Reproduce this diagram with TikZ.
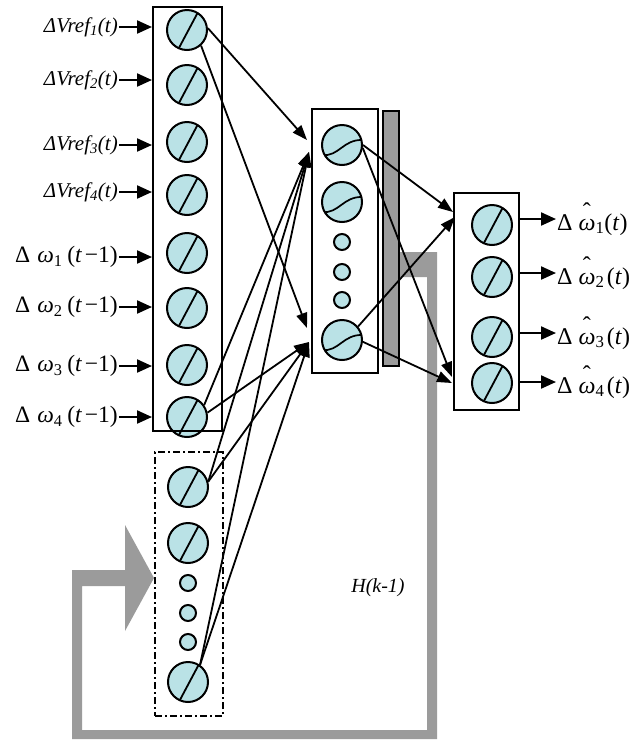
\documentclass[tikz,border=0pt]{standalone}
\usepackage{fontspec}
\setmainfont{Liberation Serif}
\usetikzlibrary{arrows.meta,calc}
\definecolor{neuron}{RGB}{186,226,230}
\definecolor{fbgray}{RGB}{155,155,155}
\newcommand\myhatw{\makebox[0pt][l]{\hspace{0.18em}\raisebox{0.45em}{ˆ}}\textit{ω}}
\begin{document}
\begin{tikzpicture}[x=1pt,y=-1pt,
  neu/.style={circle,draw=black,line width=2pt,fill=neuron,minimum size=40pt,inner sep=0pt},
  lin/.style={neu,path picture={\draw[line width=1.8pt] ($(path picture bounding box.center)+(1.5pt,0pt)+(242:25pt)$) -- ++(62:50pt);}},
  sig/.style={neu,path picture={\draw[line width=1.7pt] ($(path picture bounding box.center)+(-20pt,-10pt)$) .. controls ($(path picture bounding box.center)+(-3pt,-12pt)$) and ($(path picture bounding box.center)+(1pt,6pt)$) .. ($(path picture bounding box.center)+(21pt,5pt)$);}},
  smalln/.style={circle,draw=black,line width=2pt,fill=neuron,minimum size=16pt,inner sep=0pt},
  boxx/.style={draw=black,line width=2pt,inner sep=0pt},
  conn/.style={line width=1.8pt,-{Triangle[length=15pt,width=11pt]}},
  ioarr/.style={line width=2.2pt,-{Triangle[length=15pt,width=13pt]}},
  inlab/.style={anchor=east,inner sep=1pt,font=\fontsize{21}{24}\selectfont\itshape},
  wlab/.style={anchor=east,inner sep=1pt,font=\fontsize{23.5}{26}\selectfont},
  outlab/.style={anchor=west,inner sep=1pt,font=\fontsize{24}{26}\selectfont},
]
\useasboundingbox (0,0) rectangle (644,740);
\fill[white] (0,0) rectangle (644,740);

% feedback path
\fill[fbgray] (398,252) -- (437,252) -- (437,739) -- (72,739) -- (72,570) -- (125,570)
  -- (125,525) -- (154,578) -- (125,631) -- (125,586) -- (82,586) -- (82,730)
  -- (427,730) -- (427,277) -- (398,277) -- cycle;

% gray bar
\node[draw=black,line width=1.6pt,fill=fbgray,minimum width=16pt,minimum height=255pt,inner sep=0pt] (bar) at (391,238.5) {};

% input neurons
\node[lin] (c1) at (187,30) {};
\node[lin] (c2) at (187,85) {};
\node[lin] (c3) at (187,142) {};
\node[lin] (c4) at (187,195) {};
\node[lin] (c5) at (187,253) {};
\node[lin] (c6) at (187,308) {};
\node[lin] (c7) at (187,365) {};
\node[lin] (c8) at (187,417) {};

% context neurons
\node[lin] (d1) at (188,487) {};
\node[lin] (d2) at (188,543) {};
\node[smalln] (d3) at (188,583) {};
\node[smalln] (d4) at (188,613) {};
\node[smalln] (d5) at (188,642) {};
\node[lin] (d6) at (188,682) {};

% hidden neurons
\node[sig] (m1) at (342,145) {};
\node[sig] (m2) at (342,202) {};
\node[smalln] (m3) at (342,242) {};
\node[smalln] (m4) at (342,272) {};
\node[smalln] (m5) at (342,300) {};
\node[sig] (m6) at (342,340) {};

% output neurons
\node[lin] (o1) at (492,225) {};
\node[lin] (o2) at (492,277) {};
\node[lin] (o3) at (492,337) {};
\node[lin] (o4) at (492,383) {};

% boxes
\node[boxx,minimum width=69pt,minimum height=424pt] (inbox) at (187.5,219) {};
\node[boxx,dash pattern=on 7pt off 3pt on 2pt off 3pt,minimum width=68pt,minimum height=264pt] (ctxbox) at (189,584) {};
\node[boxx,minimum width=66pt,minimum height=264pt] (midbox) at (345,241) {};
\node[boxx,minimum width=65pt,minimum height=217pt] (outbox) at (486.5,301.5) {};

% connector targets
\coordinate (A) at (307,140);
\coordinate (B) at (309,152);
\coordinate (C) at (307,328);
\coordinate (D) at (309,342);
\coordinate (E) at (453,212);
\coordinate (E2) at (455,217);
\coordinate (F) at (452,377);
\coordinate (F2) at (452,383);

\draw[conn] (c1.5) -- (A);
\draw[conn] (c1.-48) -- (C);
\draw[conn] (c8.35) -- (B);
\draw[conn] (c8.12) -- (D);
\draw[conn] (d1.15) -- (B);
\draw[conn] (d1.15) -- (D);
\draw[conn] (d6.55) -- (B);
\draw[conn] (d6.55) -- (D);
\draw[conn] (m1.0) -- (E);
\draw[conn] (m1.-8) -- (F);
\draw[conn] (m6.40) -- (E2);
\draw[conn] (m6.-5) -- (F2);

% input labels
\node[inlab] (l1) at (119,27) {ΔVref\textsubscript{1}(t)};
\node[inlab] (l2) at (119,80) {ΔVref\textsubscript{2}(t)};
\node[inlab] (l3) at (119,145) {ΔVref\textsubscript{3}(t)};
\node[inlab] (l4) at (119,192) {ΔVref\textsubscript{4}(t)};
\node[wlab] (l5) at (119,257) {Δ\hspace{0.3em}\textit{ω}\textsubscript{1}\hspace{0.2em}(\textit{t}\hspace{0.12em}−1)};
\node[wlab] (l6) at (119,307) {Δ\hspace{0.3em}\textit{ω}\textsubscript{2}\hspace{0.2em}(\textit{t}\hspace{0.12em}−1)};
\node[wlab] (l7) at (119,366) {Δ\hspace{0.3em}\textit{ω}\textsubscript{3}\hspace{0.2em}(\textit{t}\hspace{0.12em}−1)};
\node[wlab] (l8) at (119,417) {Δ\hspace{0.3em}\textit{ω}\textsubscript{4}\hspace{0.2em}(\textit{t}\hspace{0.12em}−1)};
\foreach \n in {l1,l2,l3,l4,l5,l6,l7,l8}
  \draw[ioarr] (\n.east) -- (\n.east -| inbox.west);

% output labels
\node[outlab] (r1) at (556,219) {Δ\hspace{0.25em}\myhatw\textsubscript{1}(\textit{t})};
\node[outlab] (r2) at (556,273) {Δ\hspace{0.25em}\myhatw\textsubscript{2}\hspace{0.1em}(\textit{t})};
\node[outlab] (r3) at (556,333) {Δ\hspace{0.25em}\myhatw\textsubscript{3}\hspace{0.1em}(\textit{t})};
\node[outlab] (r4) at (556,382) {Δ\hspace{0.25em}\myhatw\textsubscript{4}\hspace{0.1em}(\textit{t})};
\foreach \n in {r1,r2,r3,r4}
  \draw[ioarr] (\n.west -| outbox.east) -- (\n.west);

\node[font=\fontsize{20}{22}\selectfont\itshape] (H) at (378,588) {H(k-1)};
\end{tikzpicture}
\end{document}
